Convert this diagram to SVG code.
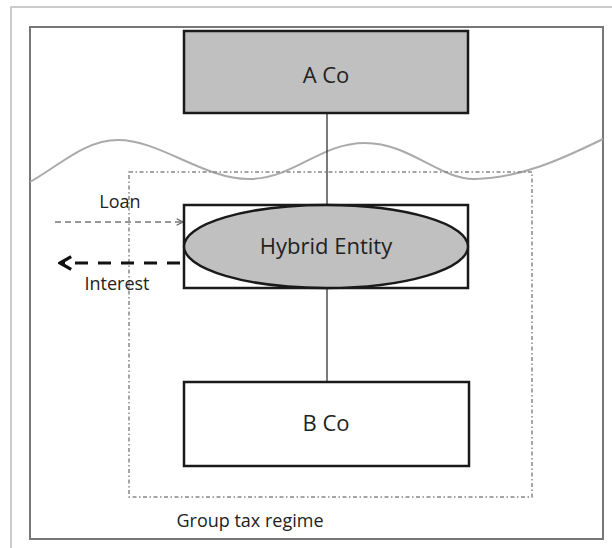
<svg xmlns="http://www.w3.org/2000/svg" width="612" height="548" viewBox="0 0 612 548">
<style>
text{font-family:"Open Sans","Noto Sans","Liberation Sans",sans-serif;fill:#222;text-anchor:middle}
.box{stroke:#1a1a1a;stroke-width:2.5}
.lbl{font-size:22px}
.small{font-size:18px}
</style>
<defs>
<marker id="thin" viewBox="0 0 10 10" refX="9" refY="5" markerWidth="8" markerHeight="8" markerUnits="userSpaceOnUse" orient="auto">
<path d="M1,1 L9,5 L1,9" fill="none" stroke="#666" stroke-width="1.5"/>
</marker>
<marker id="thick" viewBox="0 0 10 10" refX="9" refY="5" markerWidth="16" markerHeight="16" markerUnits="userSpaceOnUse" orient="auto">
<path d="M2,1 L9,5 L2,9" fill="none" stroke="#111" stroke-width="2"/>
</marker>
</defs>
<rect width="612" height="548" fill="#fff"/>
<g id="frame" fill="none">
<path d="M11,548 V7 H612" stroke="#bbb" stroke-width="1.5"/>
<rect x="30" y="27" width="573" height="512" stroke="#777" stroke-width="2"/>
</g>
<g id="wave">
<path d="M30,182 C60,165 85,140 118,140 C160,140 205,180 250,179 C295,178 320,143 365,143 C410,143 440,180 475,179 C520,178 560,160 603,139" fill="none" stroke="#aaa" stroke-width="2"/>
</g>
<g id="group-tax-regime">
<rect x="129" y="172" width="403" height="325" fill="none" stroke="#888" stroke-width="1.5" stroke-dasharray="4 2.5 1.5 2.5"/>
<text class="small" x="250" y="527" font-size="18">Group tax regime</text>
</g>
<g id="connectors">
<line x1="327" y1="113" x2="327" y2="205" stroke="#333" stroke-width="1.3"/>
<line x1="327" y1="288" x2="327" y2="382" stroke="#333" stroke-width="1.3"/>
<line x1="55" y1="222" x2="183" y2="222" stroke="#777" stroke-width="1.5" stroke-dasharray="6 4" marker-end="url(#thin)"/>
<line x1="180" y1="263" x2="60" y2="263" stroke="#111" stroke-width="3" stroke-dasharray="13 10" marker-end="url(#thick)"/>
<text class="small" x="120" y="208">Loan</text>
<text class="small" x="117" y="290">Interest</text>
</g>
<g id="a-co">
<rect class="box" x="184" y="31" width="284" height="82" fill="#c0c0c0"/>
<text class="lbl" x="326" y="83">A Co</text>
</g>
<g id="hybrid-entity">
<rect class="box" x="184" y="205" width="284" height="83" fill="#fff"/>
<ellipse class="box" cx="326" cy="246.5" rx="142" ry="41.5" fill="#c0c0c0"/>
<text class="lbl" x="326" y="254">Hybrid Entity</text>
</g>
<g id="b-co">
<rect class="box" x="184" y="382" width="285" height="84" fill="#fff"/>
<text class="lbl" x="326" y="431">B Co</text>
</g>
</svg>
